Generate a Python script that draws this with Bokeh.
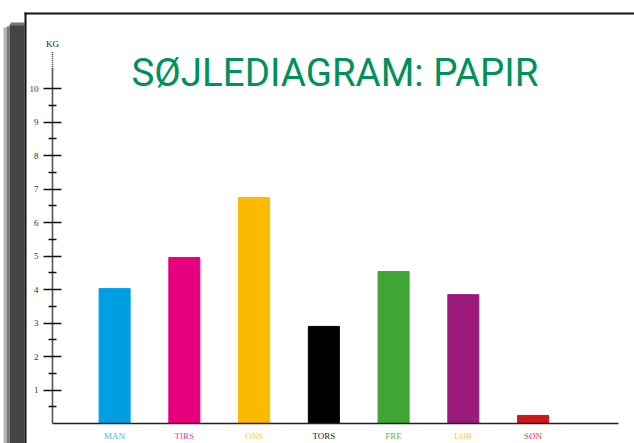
from bokeh.plotting import figure
from bokeh.models import (ColumnDataSource, LabelSet, Label, BoxAnnotation, Arrow,
                          FixedTicker, Range1d)
from bokeh.embed import file_html
from bokeh.resources import INLINE

# ---- data ----
days = ["MAN", "TIRS", "ONS", "TORS", "FRE", "LØR", "SØN"]
kg = [4.03, 4.96, 6.75, 2.90, 4.54, 3.85, 0.24]
bar_colors = ["#009FE3", "#E6007E", "#FBBA00", "#000000", "#3FA535", "#9D1A7D", "#CE1719"]
label_colors = ["#4DB8EA", "#EC3E93", "#FBC73F", "#222222", "#5DB556", "#FBC73F", "#D9454A"]
y_ticks = [1, 2, 3, 4, 5, 6, 7, 8, 9, 10]
y_minor = [0.5, 1.5, 2.5, 3.5, 4.5, 5.5, 6.5, 7.5, 8.5, 9.5]
title_text = "SØJLEDIAGRAM: PAPIR"
unit_text = "KG"

pos = list(range(1, len(days) + 1))
W, H = 634, 443
x_lo, x_hi = -0.636, 8.454       # full canvas
y_lo, y_hi = -0.598, 12.638
ax_x0, ax_x1 = 0.11, 8.22        # baseline extent
ax_y0, ax_y1 = 0.0, 10.6         # value axis extent

src = ColumnDataSource(dict(x=pos, top=kg, color=bar_colors, day=days,
                            lcolor=label_colors, zero=[0] * len(days)))

p = figure(width=W, height=H, output_backend="svg", toolbar_location=None,
           x_range=Range1d(x_lo, x_hi), y_range=Range1d(y_lo, y_hi),
           min_border=0)
p.background_fill_color = "white"
p.border_fill_color = "white"
p.outline_line_color = None
p.xgrid.visible = False
p.ygrid.visible = False


def cbox(l, r, t, b, c):
    return BoxAnnotation(left=l, right=r, top=t, bottom=b,
                         left_units="canvas", right_units="canvas",
                         top_units="canvas", bottom_units="canvas",
                         fill_color=c, fill_alpha=1, line_color=None,
                         level="underlay")


# card shadow and border
p.add_layout(cbox(3, 6, 27, H, "#b5b5b5"))
p.add_layout(cbox(6, 9, 26, H, "#7a7a7a"))
p.add_layout(cbox(9, 24, 24, H, "#444444"))
p.add_layout(cbox(10, 24, 22, 25, "#777777"))
p.add_layout(cbox(24, W, 12, 14, "#111111"))
p.add_layout(cbox(24, 26, 12, H, "#111111"))

p.vbar(x="x", top="top", bottom=0, width=0.445, color="color", source=src)

# axes (drawn at fixed locations inside the frame)
ya = p.yaxis[0]
ya.fixed_location = ax_x0
ya.bounds = (ax_y0, ax_y1)
ya.ticker = FixedTicker(ticks=y_ticks, minor_ticks=y_minor)
ya.axis_line_color = "#555555"
ya.axis_line_width = 1.6
ya.major_tick_in = 9
ya.major_tick_out = 9
ya.major_tick_line_color = "#111111"
ya.major_tick_line_width = 1.3
ya.minor_tick_in = 4
ya.minor_tick_out = 4
ya.minor_tick_line_color = "#111111"
ya.minor_tick_line_width = 1.3
ya.major_label_standoff = 5
ya.major_label_text_font = "Liberation Serif"
ya.major_label_text_font_size = "9px"
ya.major_label_text_color = "#333333"

xa = p.xaxis[0]
xa.fixed_location = ax_y0
xa.bounds = (ax_x0, ax_x1)
xa.ticker = FixedTicker(ticks=[])
xa.axis_line_color = "#222222"
xa.axis_line_width = 1.6
xa.major_tick_out = 0
xa.major_tick_in = 0
xa.minor_tick_out = 0
xa.minor_tick_in = 0

p.add_layout(LabelSet(x="x", y="zero", text="day", text_color="lcolor", source=src,
                      y_offset=-13, text_align="center", text_baseline="middle",
                      text_font="Liberation Serif", text_font_size="9px"))

# dotted axis extension and unit
p.add_layout(Arrow(end=None, x_start=ax_x0, y_start=ax_y1, x_end=ax_x0, y_end=ax_y1 + 0.5,
                   line_color="#333333", line_width=1.5, line_dash="1 1"))
p.add_layout(Label(x=ax_x0, y=ax_y1 + 0.75, text=unit_text,
                   text_align="center", text_baseline="middle",
                   text_font="Liberation Serif", text_font_size="9px",
                   text_color="#222222"))

# title
p.add_layout(Label(x=334.5, y=72, x_units="canvas", y_units="canvas",
                   text=title_text, text_align="center", text_baseline="alphabetic",
                   text_font="Roboto", text_font_size="38.5px", text_color="#00915A"))

open("out.html", "w").write(file_html(p, INLINE))
